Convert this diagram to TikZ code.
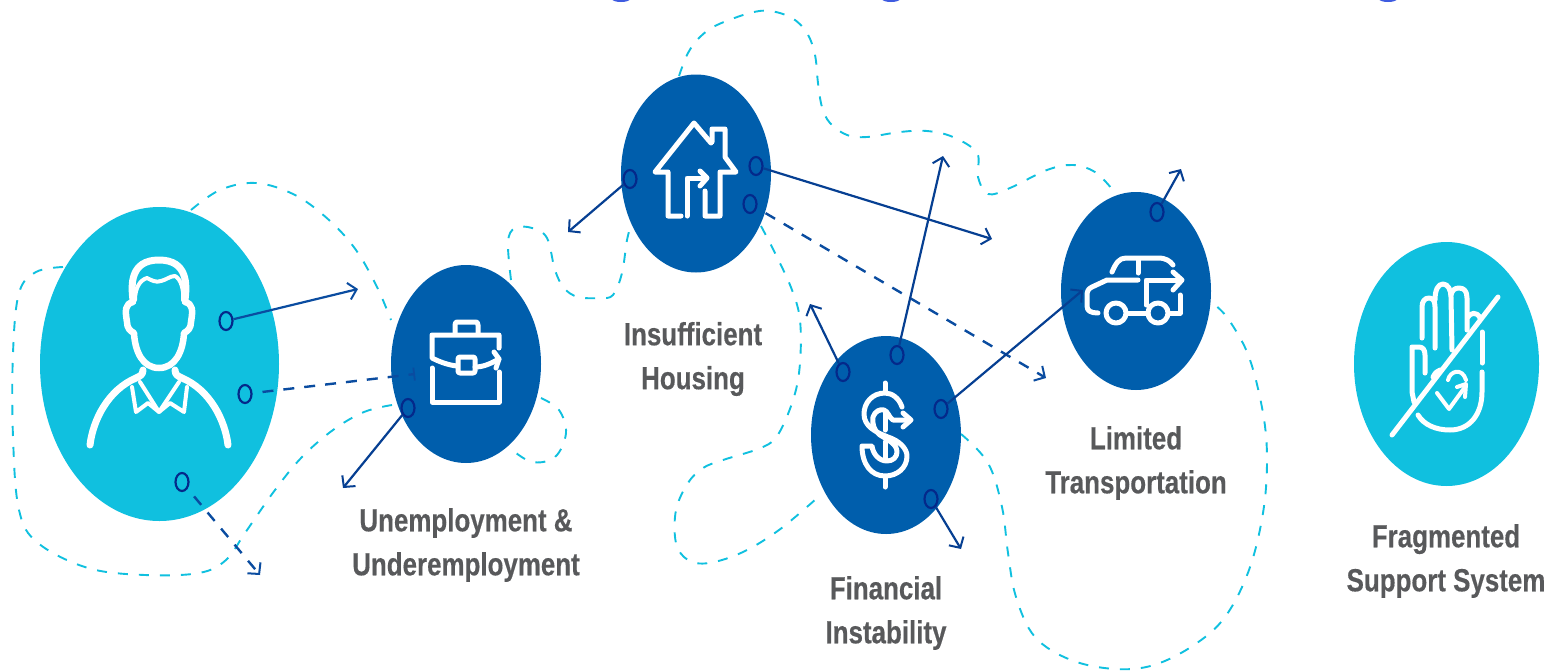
\documentclass[tikz,border=0pt]{standalone}
\usepackage{fontspec}
\usetikzlibrary{shapes.geometric,arrows.meta}
\newfontfamily\labelfont[FakeStretch=0.81,FakeBold=0.4]{Liberation Sans}
\definecolor{cyanfill}{HTML}{10C0DF}
\definecolor{bluefill}{HTML}{005EAC}
\definecolor{arrowblue}{HTML}{0A4CA0}
\definecolor{arrowdeep}{HTML}{063F92}
\definecolor{dotblue}{HTML}{04298A}
\definecolor{labelgrey}{HTML}{58595B}
\definecolor{topblue}{HTML}{3E5BE0}
\tikzset{
  x=1pt,y=-1pt,
  bigdisc/.style={ellipse,inner sep=0pt,draw=none,minimum width=150pt,minimum height=198pt,fill=bluefill},
  cyandisc/.style={ellipse,inner sep=0pt,draw=none,fill=cyanfill},
  dotring/.style={ellipse,inner sep=0pt,minimum width=13pt,minimum height=18pt,draw=dotblue,line width=2.2pt},
  trail/.style={cyanfill,line width=1.9pt,dash pattern=on 10pt off 11pt},
  link/.style={arrowblue,line width=2.2pt,-{Straight Barb[length=8pt,width=17pt,line width=2pt]}},
  dlink/.style={arrowblue,line width=2.4pt,dash pattern=on 11pt off 10pt,dash phase=11pt,-{Straight Barb[length=8pt,width=17pt,line width=2pt]}},
  iconline/.style={white,line width=5pt,line cap=round,line join=round},
  caption/.style={labelgrey,align=center,inner sep=0pt,font=\labelfont\bfseries\fontsize{32}{44}\selectfont}
}
\begin{document}
\begin{tikzpicture}
\useasboundingbox (0,0) rectangle (1551,670);
% cropped blue marks at the top edge
\fill[topblue] (621,-1) ellipse [x radius=9pt,y radius=3pt];
\fill[topblue] (891,-1) ellipse [x radius=9pt,y radius=3pt];
\fill[topblue] (1388,-1) ellipse [x radius=9pt,y radius=3pt];
% dashed trails
\draw[trail] plot[smooth,tension=0.6] coordinates {(191,210)(220,190)(256,183)(295,195)(329,220)(356,250)(377,287)(391,320)};
\draw[trail] plot[smooth,tension=0.6] coordinates {(63,267)(36,272)(19,293)(13,353)(13,437)(19,510)(38,543)(88,568)(145,575)(199,573)(226,560)(245,533)(275,490)(302,457)(333,430)(364,412)(392,405)};
\draw[trail] plot[smooth,tension=0.6] coordinates {(511,280)(508,242)(515,228)(532,228)(547,238)(555,270)(564,288)(578,297)(600,298)(613,295)(622,273)(627,240)(632,222)};
\draw[trail] plot[smooth,tension=0.6] coordinates {(679,76)(688,53)(700,37)(717,25)(750,13)(770,11)(792,18)(807,33)(815,55)(818,83)(822,107)(830,123)(847,135)(867,137)(900,132)(927,131)(953,137)(977,153)(978,177)(988,194)(1010,188)(1047,170)(1073,165)(1095,172)(1112,189)};
\draw[trail] plot[smooth,tension=0.6] coordinates {(761,226)(777,257)(792,290)(800,320)(800,363)(794,397)(779,433)(763,447)(723,460)(703,468)(688,483)(676,510)(676,543)(688,560)(709,563)(743,552)(779,530)(816,499)};
\draw[trail] plot[smooth,tension=0.6] coordinates {(961,434)(988,463)(1002,507)(1008,553)(1016,597)(1035,637)(1071,660)(1115,669)(1154,665)(1194,645)(1225,617)(1249,570)(1263,513)(1267,460)(1263,413)(1249,357)(1229,320)(1215,305)};
\draw[trail] plot[smooth,tension=0.6] coordinates {(541,398)(559,410)(566,433)(555,457)(532,462)(511,449)};
% discs
\node[cyandisc,minimum width=239pt,minimum height=314pt] (person) at (159.5,364) {};
\node[bigdisc] (job) at (466,364) {};
\node[bigdisc] (house) at (696,173.5) {};
\node[bigdisc] (money) at (886,435) {};
\node[bigdisc] (car) at (1136,291) {};
\node[cyandisc,minimum width=185pt,minimum height=244pt] (hand) at (1446.5,364) {};
% person icon
\draw[iconline,line width=7pt] (133,300) .. controls (131,285) and (130,260) .. (159,260) .. controls (188,260) and (187,285) .. (185,300);
\draw[iconline,line width=4pt] (135,300) .. controls (135,288) and (140,280) .. (147,278) .. controls (151,280) and (156,283) .. (161,281) .. controls (166,280) and (170,276) .. (175,276) .. controls (181,279) and (184,290) .. (183,300);
\draw[iconline,line width=6.5pt] (133,302) .. controls (125,304) and (125,310) .. (127,322) .. controls (127,328) and (130,331) .. (134,333) .. controls (135,352) and (143,368) .. (159,368) .. controls (175,368) and (183,352) .. (184,333) .. controls (188,331) and (191,328) .. (191,322) .. controls (193,310) and (193,304) .. (185,302);
\draw[iconline,line width=7pt] (90,445) .. controls (93,420) and (108,390) .. (136,378) .. controls (140,376) and (143,375) .. (143,370);
\draw[iconline,line width=7pt] (228,445) .. controls (225,420) and (210,390) .. (182,378) .. controls (178,376) and (175,375) .. (175,370);
\draw[iconline,line width=4pt] (132,387) -- (136,412) -- (148,403) -- (159,412) -- (170,403) -- (184,412) -- (187,387);
\draw[iconline,line width=4pt] (140,382) -- (159,412) -- (179,382);
% briefcase icon
\draw[iconline] (455,333) -- (455,325) .. controls (455,322) and (456,322) .. (458,322) -- (475,322) .. controls (477,322) and (478,322) .. (478,325) -- (478,333);
\draw[iconline] (499,348) -- (499,335) -- (432,335) -- (432,358) .. controls (440,362) and (448,365) .. (457,366);
\draw[iconline] (475,367) .. controls (483,367) and (490,364) .. (499,359);
\draw[iconline] (494,352) -- (499,359) -- (496,368);
\draw[iconline,rounded corners=2pt] (458,357) rectangle (475,373);
\draw[iconline] (432,368) -- (432,402) -- (499,402) -- (499,372);
% house icon
\draw[iconline] (711,143) -- (694,123) -- (655,172) -- (668,172) -- (668,216) -- (681,216);
\draw[iconline] (712,142) -- (712,129) -- (725,129) -- (725,157) -- (736,172) -- (720,172) -- (720,216) -- (705,216) -- (705,191);
\draw[iconline] (687,216) -- (687,178) -- (706,178);
\draw[iconline] (700,171) -- (707,178) -- (700,186);
% dollar icon
\draw[iconline] (885,383) -- (885,392) (885,478) -- (885,487) (885,413) -- (885,430) (885,442) -- (885,460);
\draw[iconline] (902,407) .. controls (899,398) and (892,393) .. (885,393) .. controls (872,393) and (864,403) .. (864,414) .. controls (864,426) and (875,432) .. (888,437) .. controls (900,441) and (907,449) .. (907,456) .. controls (907,468) and (897,476) .. (885,476) .. controls (871,476) and (862,464) .. (862,446) -- (872,446) .. controls (873,454) and (879,461) .. (887,461) .. controls (893,461) and (897,457) .. (897,452) .. controls (897,444) and (888,440) .. (880,435) .. controls (874,431) and (872,424) .. (873,417) .. controls (875,411) and (880,409) .. (884,410) .. controls (888,411) and (889,418) .. (893,420) -- (910,420);
\draw[iconline] (903,413) -- (911,420) -- (903,427);
% car icon
\draw[iconline] (1112,272) .. controls (1116,263) and (1119,258) .. (1126,258) -- (1158,258) .. controls (1166,258) and (1170,261) .. (1173,265);
\draw[iconline] (1138,259) -- (1138,273);
\draw[iconline] (1138,280) -- (1107,280) -- (1092,287) .. controls (1088,289) and (1087,291) .. (1087,296) -- (1087,306) .. controls (1087,311) and (1091,313) .. (1098,313);
\draw[iconline] (1146,305) -- (1146,280) -- (1181,280);
\draw[iconline] (1173,272) -- (1182,280) -- (1173,290);
\draw[iconline] (1116,313) circle [radius=10pt];
\draw[iconline] (1158,313) circle [radius=10pt];
\draw[iconline] (1127,313) -- (1148,313) (1169,313) -- (1180,313) -- (1180,295);
% hand icon
\draw[iconline] (1498,297) -- (1392,435);
\draw[iconline] (1422,338) -- (1422,307) .. controls (1422,301) and (1425,298) .. (1429,298) .. controls (1433,298) and (1435,301) .. (1435,307) -- (1435,348);
\draw[iconline] (1435,300) .. controls (1435,290) and (1438,284) .. (1443,284) .. controls (1448,284) and (1451,290) .. (1451,297) -- (1452,350);
\draw[iconline] (1451,295) .. controls (1452,290) and (1455,288) .. (1459,288) .. controls (1464,288) and (1467,291) .. (1467,298) -- (1467,330);
\draw[iconline] (1468,317) .. controls (1470,313) and (1477,311) .. (1480,318);
\draw[iconline] (1425,373) -- (1425,355) .. controls (1425,350) and (1423,347) .. (1419,347) -- (1412,347) -- (1412,392) -- (1414,402);
\draw[iconline] (1433,377) .. controls (1435,373) and (1437,371) .. (1440,370);
\draw[iconline] (1482,332) -- (1482,363);
\draw[iconline] (1482,372) -- (1482,392) .. controls (1482,414) and (1470,430) .. (1450,430) .. controls (1436,430) and (1424,425) .. (1418,415);
\draw[iconline,line width=4pt] (1437,393) -- (1449,409) -- (1465,387);
\draw[iconline,line width=4pt] (1457,387) -- (1466,384) -- (1465,397);
\draw[iconline,line width=4pt] (1448,380) .. controls (1450,371) and (1462,367) .. (1466,380);
% free ends of the connectors
\coordinate (a1) at (358,289);
\coordinate (a2) at (415,374);
\coordinate (a3) at (260,575);
\coordinate (a4) at (343,488);
\coordinate (a5) at (568,232);
\coordinate (a6) at (992,239);
\coordinate (a7) at (1046,378);
\coordinate (a8) at (810,304);
\coordinate (a9) at (943,156);
\coordinate (a10) at (1083,290);
\coordinate (a11) at (961,549);
\coordinate (a12) at (1181,169);
% small rings
\node[dotring] (d1) at (226,321) {};
\node[dotring] (d2) at (245,394) {};
\node[dotring] (d3) at (182,482) {};
\node[dotring] (d4) at (408,408) {};
\node[dotring] (d5) at (630,179) {};
\node[dotring] (d6) at (756,166) {};
\node[dotring] (d7) at (750,204) {};
\node[dotring] (d8) at (843,372) {};
\node[dotring] (d9) at (897,355) {};
\node[dotring] (d10) at (941,409) {};
\node[dotring] (d11) at (931,499) {};
\node[dotring] (d12) at (1157,212) {};
% connectors
\draw[link] (d1) -- (a1);
\draw[arrowblue,line width=2.4pt,dash pattern=on 11pt off 10pt,dash phase=11pt,-{Bar[width=13pt,line width=1.8pt]}] (d2) -- (a2);
\draw[dlink] (d3) -- (a3);
\draw[link,arrowdeep] (d4) -- (a4);
\draw[link,arrowdeep] (d5) -- (a5);
\draw[link,arrowdeep] (d6) -- (a6);
\draw[dlink] (d7) -- (a7);
\draw[link,arrowdeep] (d8) -- (a8);
\draw[link,arrowdeep] (d9) -- (a9);
\draw[link,arrowdeep] (d10) -- (a10);
\draw[link,arrowdeep] (d11) -- (a11);
\draw[link,arrowdeep] (d12) -- (a12);
% captions
\node[caption] (t1) at (466,545) {Unemployment \&\\Underemployment};
\node[caption] (t2) at (693,359) {Insufficient\\Housing};
\node[caption] (t3) at (886,613) {Financial\\Instability};
\node[caption] (t4) at (1136,463) {Limited\\Transportation};
\node[caption] (t5) at (1446,561) {Fragmented\\Support System};
\end{tikzpicture}
\end{document}
